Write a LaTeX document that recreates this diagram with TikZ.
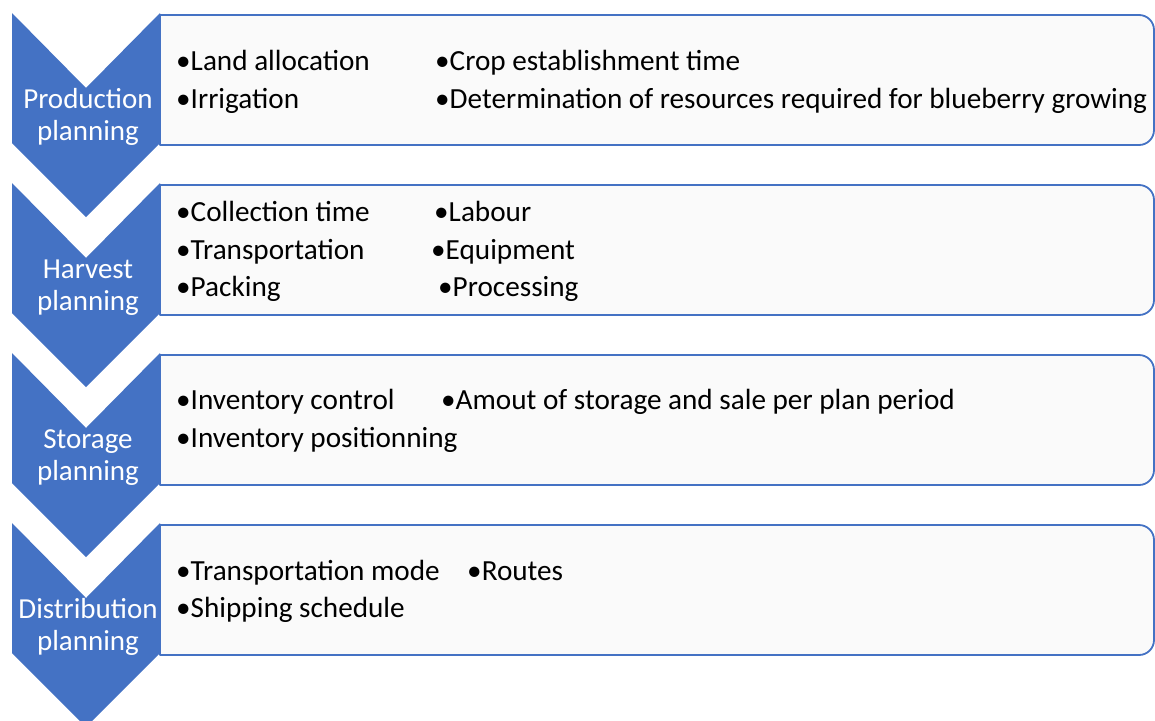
\documentclass[tikz,border=0pt]{standalone}
\usepackage{fontspec}
\setmainfont{Carlito}
\definecolor{chev}{HTML}{4472C4}
\definecolor{boxfill}{HTML}{FAFAFA}
\tikzset{
  x=1pt, y=-1pt,
  chevshape/.style={fill=chev, draw=none},
  boxshape/.style={fill=boxfill, draw=chev, line width=1.8pt, line join=round},
  lbl/.style={text=white, font=\fontsize{29}{31}\selectfont, inner sep=0pt, anchor=base},
  item/.style={text=black, font=\fontsize{29.2}{31}\selectfont, inner sep=0pt, anchor=base west},
}
\begin{document}
\begin{tikzpicture}
\useasboundingbox (0,0) rectangle (1155,720);
\begin{scope}
\clip (0,0) rectangle (1155,720);
\foreach \o/\a/\k in {0/Production/1, 170/Harvest/2, 340/Storage/3, 510/Distribution/4}{
  \fill[chevshape] (12,{13+\o}) -- (86,{88+\o}) -- (160,{13+\o}) -- (160,{143+\o})
        -- (86,{217+\o}) -- (12,{143+\o}) -- cycle;
  \path[boxshape] (160,{15+\o}) -- (1139,{15+\o})
        .. controls (1147.3,{15+\o}) and (1154,{21.7+\o}) .. (1154,{30+\o})
        -- (1154,{130+\o})
        .. controls (1154,{138.3+\o}) and (1147.3,{145+\o}) .. (1139,{145+\o})
        -- (160,{145+\o}) -- cycle;
  \node[lbl] (t\k) at (88,{108+\o}) {\a};
  \node[lbl] (p\k) at (88,{140+\o}) {planning};
}
\end{scope}
% Box 1
\node[item] (b1a) at (176,70) {•Land allocation};
\node[item] (b1b) at (435,70) {•Crop establishment time};
\node[item] (b1c) at (176,108) {•Irrigation};
\node[item] (b1d) at (435,108) {•Determination of resources required for blueberry growing};
% Box 2
\node[item] (b2a) at (176,221) {•Collection time};
\node[item] (b2b) at (434,221) {•Labour};
\node[item] (b2c) at (176,259) {•Transportation};
\node[item] (b2d) at (431,259) {•Equipment};
\node[item] (b2e) at (176,296) {•Packing};
\node[item] (b2f) at (438,296) {•Processing};
% Box 3
\node[item] (b3a) at (176,409) {•Inventory control};
\node[item] (b3b) at (441,409) {•Amout of storage and sale per plan period};
\node[item] (b3c) at (176,447) {•Inventory positionning};
% Box 4
\node[item] (b4a) at (176,580) {•Transportation mode};
\node[item] (b4b) at (467,580) {•Routes};
\node[item] (b4c) at (176,617) {•Shipping schedule};
\end{tikzpicture}
\end{document}
